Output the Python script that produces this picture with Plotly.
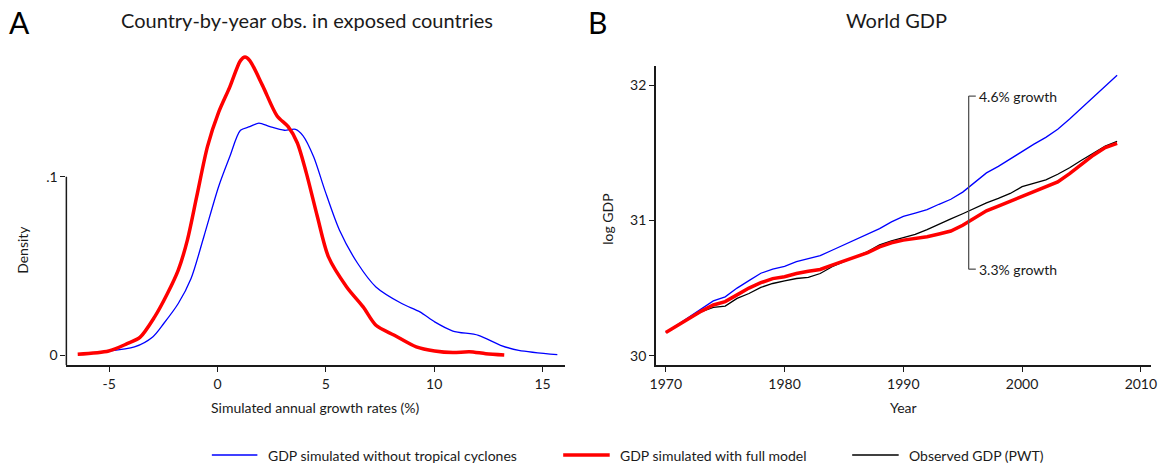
import plotly.graph_objects as go

W, H = 1163, 465
FONT = "Lato"
INK = "#1a1a1a"

# ---- Panel A: kernel density of simulated growth rates ----
growth_no_tc = [-5.0, -3.83, -2.99, -2.48, -1.81, -1.22, -0.63, 0.05, 0.56, 1.06, 1.49,
                1.91, 2.42, 3.09, 3.6, 3.94, 4.44, 4.95, 5.63, 6.47, 7.31, 8.5, 9.34,
                10.02, 10.86, 12.04, 13.06, 13.9, 15.68]
density_no_tc = [0.0024, 0.0047, 0.0103, 0.0178, 0.029, 0.043, 0.0664, 0.0944, 0.111,
                 0.126, 0.128, 0.130, 0.128, 0.126, 0.1265, 0.123, 0.111, 0.0925, 0.070,
                 0.0514, 0.0383, 0.029, 0.0243, 0.0187, 0.0136, 0.0112, 0.0056, 0.0028,
                 0.0004]

growth_full = [-6.45, -5.02, -4.17, -3.58, -2.9, -2.31, -1.81, -1.39, -0.96, -0.46, 0.05,
               0.56, 1.06, 1.27, 1.49, 2.08, 2.75, 3.26, 3.68, 4.1, 4.61, 5.12, 5.96,
               6.72, 7.31, 8.16, 9.17, 10.02, 10.86, 11.62, 12.38, 13.23]
density_full = [0.0006, 0.0024, 0.0065, 0.010, 0.0215, 0.0346, 0.0477, 0.0645, 0.0888,
                0.117, 0.136, 0.150, 0.165, 0.167, 0.165, 0.151, 0.134, 0.128, 0.119,
                0.102, 0.0776, 0.0551, 0.0383, 0.0271, 0.0168, 0.0112, 0.0047, 0.0024,
                0.0015, 0.002, 0.0009, 0.0002]

growth_ticks = [-5, 0, 5, 10, 15]
growth_ticklabels = ["-5", "0", "5", "10", "15"]
density_ticks = [0, 0.1]
density_ticklabels = ["0", ".1"]

# ---- Panel B: world GDP paths ----
years = list(range(1970, 2009))
gdp_no_tc = [30.172, 30.23, 30.29, 30.35, 30.405, 30.435, 30.50, 30.555, 30.61, 30.64,
             30.66, 30.695, 30.715, 30.74, 30.78, 30.82, 30.855, 30.895, 30.94, 30.99,
             31.03, 31.055, 31.08, 31.12, 31.157, 31.21, 31.28, 31.352, 31.40, 31.455,
             31.515, 31.565, 31.615, 31.675, 31.75, 31.83, 31.91, 31.99, 32.075]
gdp_full = [30.172, 30.225, 30.28, 30.33, 30.375, 30.40, 30.45, 30.50, 30.54, 30.57,
            30.584, 30.608, 30.625, 30.638, 30.67, 30.70, 30.73, 30.762, 30.805, 30.835,
            30.855, 30.865, 30.88, 30.90, 30.922, 30.965, 31.015, 31.072, 31.106, 31.143,
            31.18, 31.215, 31.25, 31.285, 31.347, 31.416, 31.483, 31.54, 31.571]
gdp_obs = [30.172, 30.225, 30.275, 30.325, 30.357, 30.367, 30.424, 30.46, 30.505, 30.534,
           30.554, 30.571, 30.579, 30.608, 30.658, 30.695, 30.73, 30.77, 30.82, 30.85,
           30.874, 30.897, 30.933, 30.97, 31.012, 31.05, 31.09, 31.13, 31.163, 31.20,
           31.25, 31.273, 31.30, 31.342, 31.39, 31.446, 31.495, 31.55, 31.585]

year_ticks = [1970, 1980, 1990, 2000, 2010]
gdp_ticks = [30, 31, 32]

# growth-rate bracket
bracket_year = 1995.5
bracket_top, bracket_bottom = 31.92, 30.64
bracket_labels = ["4.6% growth", "3.3% growth"]

series_names = ["GDP simulated without tropical cyclones",
                "GDP simulated with full model",
                "Observed GDP (PWT)"]
BLUE, RED, BLACK = "#0000ff", "#ff0000", "#000000"

def px_x(p):
    return p / W

def px_y(p):
    return 1 - p / H

fig = go.Figure()

fig.add_trace(go.Scatter(x=growth_no_tc, y=density_no_tc, mode="lines",
                         line=dict(color=BLUE, width=1.3, shape="spline", smoothing=0.8),
                         xaxis="x", yaxis="y", showlegend=False))
fig.add_trace(go.Scatter(x=growth_full, y=density_full, mode="lines",
                         line=dict(color=RED, width=3.5, shape="spline", smoothing=0.8),
                         xaxis="x", yaxis="y", showlegend=False))

fig.add_trace(go.Scatter(x=years, y=gdp_no_tc, mode="lines",
                         line=dict(color=BLUE, width=1.3),
                         xaxis="x2", yaxis="y2", showlegend=False))
fig.add_trace(go.Scatter(x=years, y=gdp_obs, mode="lines",
                         line=dict(color=BLACK, width=1.3),
                         xaxis="x2", yaxis="y2", showlegend=False))
fig.add_trace(go.Scatter(x=years, y=gdp_full, mode="lines",
                         line=dict(color=RED, width=3.5),
                         xaxis="x2", yaxis="y2", showlegend=False))

# plot-area geometry (pixels)
A_left, A_right, A_top, A_bottom = 61, 565, 40, 365.3
B_left, B_right, B_top, B_bottom = 656.7, 1156.7, 66, 365

# axis ranges derived from tick positions
a_px_per_unit_x = 21.9
a_zero_x = 213.7
a_px_per_unit_y = 1786.0
a_zero_y = 355.3
a_xrange = [(A_left - a_zero_x) / a_px_per_unit_x, (A_right - a_zero_x) / a_px_per_unit_x]
a_yrange = [(a_zero_y - A_bottom) / a_px_per_unit_y, (a_zero_y - A_top) / a_px_per_unit_y]

b_px_per_year = 12.0
b_1970_x = 666.7
b_px_per_unit_y = 135.2
b_30_y = 355.7
b_xrange = [1970 + (B_left - b_1970_x) / b_px_per_year, 1970 + (B_right - b_1970_x) / b_px_per_year]
b_yrange = [30 + (b_30_y - B_bottom) / b_px_per_unit_y, 30 + (b_30_y - B_top) / b_px_per_unit_y]

tickfont = dict(family=FONT, size=14, color=INK)
axis_common = dict(ticks="outside", ticklen=5, tickwidth=1.3, tickcolor=INK,
                   showgrid=False, zeroline=False, tickfont=tickfont)

fig.update_layout(
    width=W, height=H, margin=dict(l=0, r=0, t=0, b=0),
    paper_bgcolor="white", plot_bgcolor="white",
    font=dict(family=FONT, color=INK),
    xaxis=dict(domain=[px_x(A_left), px_x(A_right)], range=a_xrange,
               tickvals=growth_ticks, ticktext=growth_ticklabels,
               showline=True, linecolor=INK, linewidth=1.5,
               anchor="y", **axis_common),
    yaxis=dict(domain=[px_y(A_bottom), px_y(A_top)], range=a_yrange,
               tickvals=density_ticks, ticktext=density_ticklabels, showline=False,
               anchor="x", **axis_common),
    xaxis2=dict(domain=[px_x(B_left), px_x(B_right)], range=b_xrange,
                tickvals=year_ticks, showline=True, linecolor=INK, linewidth=1.5,
                anchor="y2", **axis_common),
    yaxis2=dict(domain=[px_y(B_bottom), px_y(B_top)], range=b_yrange,
                tickvals=gdp_ticks, showline=True, linecolor=INK, linewidth=1.5,
                anchor="x2", **axis_common),
)

shapes = []
# panel A y-axis line spans only up to the top tick
shapes.append(dict(type="line", xref="x domain", yref="y", x0=0, x1=0,
                   y0=a_yrange[0], y1=density_ticks[-1], line=dict(color=INK, width=1.5)))

# growth bracket in panel B
tick_len_years = 0.6
bracket_color = "#555555"
shapes.append(dict(type="line", xref="x2", yref="y2", x0=bracket_year, x1=bracket_year,
                   y0=bracket_bottom, y1=bracket_top, line=dict(color=bracket_color, width=1.3)))
for yv in (bracket_top, bracket_bottom):
    shapes.append(dict(type="line", xref="x2", yref="y2", x0=bracket_year,
                       x1=bracket_year + tick_len_years, y0=yv, y1=yv,
                       line=dict(color=bracket_color, width=1.3)))

annotations = []
for yv, txt in zip((bracket_top, bracket_bottom), bracket_labels):
    annotations.append(dict(xref="x2", yref="y2", x=bracket_year + tick_len_years, y=yv,
                            text=txt, showarrow=False, xanchor="left", yanchor="middle",
                            xshift=1, font=dict(family=FONT, size=14, color=INK)))

# legend drawn along the bottom
legend_y = px_y(455)
legend_items = [(208, 254, 263, BLUE, 1.3), (563, 610, 618, RED, 3.5), (855, 902, 910, BLACK, 1.3)]
for (s0, s1, t0, col, lw), name in zip(legend_items, series_names):
    shapes.append(dict(type="line", xref="paper", yref="paper", x0=px_x(s0), x1=px_x(s1),
                       y0=legend_y, y1=legend_y, line=dict(color=col, width=lw)))
    annotations.append(dict(xref="paper", yref="paper", x=px_x(t0), y=legend_y, text=name,
                            showarrow=False, xanchor="left", yanchor="middle",
                            font=dict(family=FONT, size=14, color=INK)))

# panel letters and titles
annotations += [
    dict(xref="paper", yref="paper", x=px_x(1), y=px_y(22), text="A", showarrow=False,
         xanchor="left", yanchor="middle", font=dict(family=FONT, size=30, color="#000000")),
    dict(xref="paper", yref="paper", x=px_x(586), y=px_y(22), text="B", showarrow=False,
         xanchor="left", yanchor="middle", font=dict(family=FONT, size=30, color="#000000")),
    dict(xref="paper", yref="paper", x=px_x(304), y=px_y(20),
         text="Country-by-year obs. in exposed countries", showarrow=False,
         xanchor="center", yanchor="middle", font=dict(family=FONT, size=20, color=INK)),
    dict(xref="paper", yref="paper", x=px_x(900), y=px_y(20), text="World GDP",
         showarrow=False, xanchor="center", yanchor="middle",
         font=dict(family=FONT, size=20, color=INK)),
    # axis titles
    dict(xref="paper", yref="paper", x=px_x(17), y=px_y(250), text="Density",
         showarrow=False, textangle=-90, xanchor="center", yanchor="middle",
         font=dict(family=FONT, size=14, color=INK)),
    dict(xref="paper", yref="paper", x=px_x(313), y=px_y(407),
         text="Simulated annual growth rates (%)", showarrow=False,
         xanchor="center", yanchor="middle", font=dict(family=FONT, size=14, color=INK)),
    dict(xref="paper", yref="paper", x=px_x(607), y=px_y(219), text="log GDP",
         showarrow=False, textangle=-90, xanchor="center", yanchor="middle",
         font=dict(family=FONT, size=14, color=INK)),
    dict(xref="paper", yref="paper", x=px_x(906.7), y=px_y(407), text="Year",
         showarrow=False, xanchor="center", yanchor="middle",
         font=dict(family=FONT, size=14, color=INK)),
]

fig.update_layout(shapes=shapes, annotations=annotations)
fig.write_html("out.html")
